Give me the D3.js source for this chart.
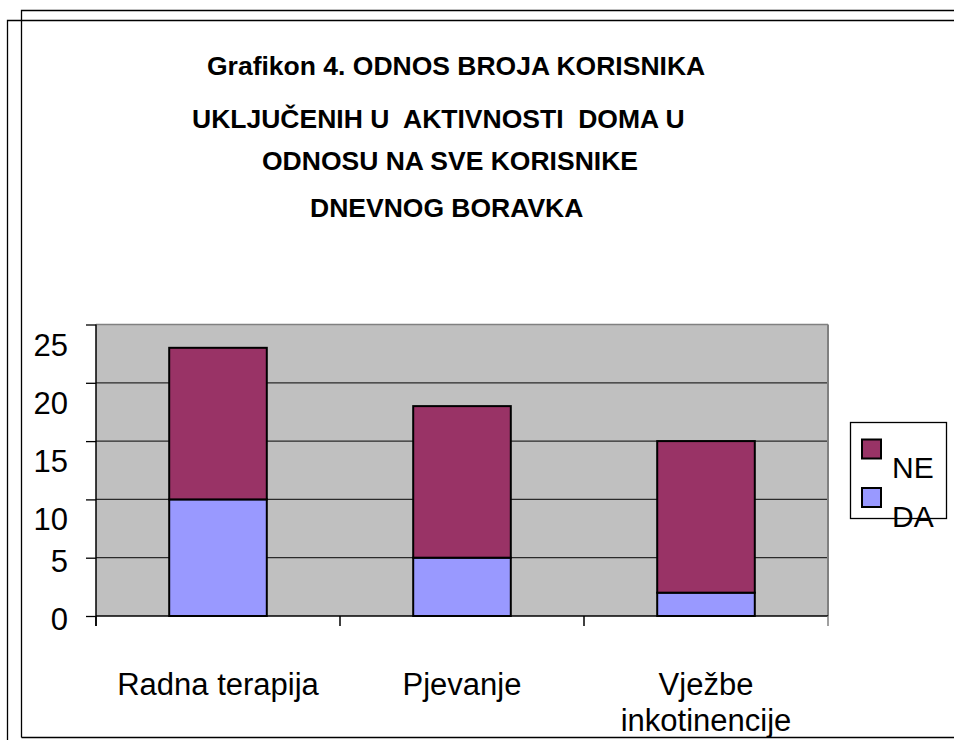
<!DOCTYPE html>
<html>
<head>
<meta charset="utf-8">
<script src="https://cdn.jsdelivr.net/npm/d3@7"></script>
<style>
  body { margin: 0; background: #fff; }
  svg { display: block; font-family: "Liberation Sans", Arial, sans-serif; }
</style>
</head>
<body>
<svg id="chart" width="954" height="740"></svg>
<script>
// chart data
const categories = ["Radna terapija", "Pjevanje", "Vježbe inkotinencije"];
const categoryLines = [["Radna terapija"], ["Pjevanje"], ["Vježbe", "inkotinencije"]];
const daValues = [10, 5, 2];
const neValues = [13, 13, 13];
const seriesNames = ["DA", "NE"];
const seriesColors = ["#9999FF", "#993366"];
const yTicks = [0, 5, 10, 15, 20, 25];
const titleLines = [
  "Grafikon 4. ODNOS BROJA KORISNIKA",
  "UKLJUČENIH U  AKTIVNOSTI  DOMA U",
  "ODNOSU NA SVE KORISNIKE",
  "DNEVNOG BORAVKA"
];

const svg = d3.select("#chart");

// outer double frame
const frame = svg.append("g").attr("stroke", "#000").attr("stroke-width", 1.3).attr("fill", "none");
frame.append("path").attr("d", "M21.5,737.5 L21.5,10.5 L954,10.5");
frame.append("path").attr("d", "M7.5,740 L7.5,20.5 L954,20.5");
frame.append("line").attr("x1", 21.5).attr("x2", 954).attr("y1", 737.5).attr("y2", 737.5);

// title
const titleX = [207, 192, 262, 310];
const titleY = [75, 128, 170, 217];
svg.append("g").selectAll("text")
  .data(titleLines)
  .enter()
  .append("text")
  .attr("x", (d, i) => titleX[i])
  .attr("y", (d, i) => titleY[i])
  .attr("font-size", 26.5)
  .attr("font-weight", "bold")
  .style("white-space", "pre")
  .attr("xml:space", "preserve")
  .text(d => d);

// scales
const plot = { left: 96, right: 828, top: 324.5, bottom: 616 };
const x = d3.scaleBand()
  .domain(categories)
  .range([plot.left, plot.right])
  .paddingInner(0.6)
  .paddingOuter(0.3);
const y = d3.scaleLinear()
  .domain([0, 25])
  .range([plot.bottom, plot.top]);

// plot background
svg.append("rect")
  .attr("x", plot.left).attr("y", plot.top)
  .attr("width", plot.right - plot.left)
  .attr("height", plot.bottom - plot.top)
  .attr("fill", "#C0C0C0");

// gridlines
svg.append("g").selectAll("line")
  .data(yTicks.filter(d => d > 0))
  .enter()
  .append("line")
  .attr("x1", plot.left).attr("x2", plot.right)
  .attr("y1", d => y(d)).attr("y2", d => y(d))
  .attr("stroke", d => d === 25 ? "#808080" : "#2a2a2a")
  .attr("stroke-width", 1.3);

// right border of the plot area
svg.append("line")
  .attr("x1", plot.right).attr("x2", plot.right)
  .attr("y1", plot.top).attr("y2", plot.bottom)
  .attr("stroke", "#808080").attr("stroke-width", 2);

// stacked bars
const tableData = categories.map((c, i) => ({ category: c, DA: daValues[i], NE: neValues[i] }));
const stacked = d3.stack().keys(seriesNames)(tableData);

svg.append("g").selectAll("g")
  .data(stacked)
  .enter()
  .append("g")
  .attr("fill", (d, i) => seriesColors[i])
  .selectAll("rect")
  .data(d => d)
  .enter()
  .append("rect")
  .attr("x", d => x(d.data.category))
  .attr("y", d => y(d[1]))
  .attr("width", x.bandwidth())
  .attr("height", d => y(d[0]) - y(d[1]))
  .attr("stroke", "#000")
  .attr("stroke-width", 2);

// y axis
const yAxis = svg.append("g")
  .attr("transform", `translate(${plot.left},0)`)
  .call(d3.axisLeft(y).tickValues(yTicks).tickSize(10).tickFormat(""));
yAxis.select(".domain").attr("d", `M0,${plot.top}V${plot.bottom + 10}`).attr("stroke", "#000").attr("stroke-width", 1.5);
yAxis.selectAll(".tick line").attr("stroke", "#000").attr("stroke-width", 1.3);

svg.append("g").selectAll("text")
  .data(yTicks)
  .enter()
  .append("text")
  .attr("x", 68)
  .attr("y", d => y(d) + (d >= 10 ? 31 : 14))
  .attr("text-anchor", "end")
  .attr("font-size", 31)
  .text(d => d);

// x axis with ticks at the category boundaries
const step = x.step();
const boundaries = categories.map(c => x(c) - step * 0.3).concat([plot.right]);
const xAxis = svg.append("g");
xAxis.append("line")
  .attr("x1", plot.left).attr("x2", plot.right)
  .attr("y1", plot.bottom).attr("y2", plot.bottom)
  .attr("stroke", "#000").attr("stroke-width", 1.5);
xAxis.selectAll(".xtick")
  .data(boundaries)
  .enter()
  .append("line")
  .attr("class", "xtick")
  .attr("x1", d => d).attr("x2", d => d)
  .attr("y1", plot.bottom).attr("y2", plot.bottom + 10)
  .attr("stroke", (d, i) => i === boundaries.length - 1 ? "#808080" : "#000")
  .attr("stroke-width", 1.5);

// category labels
svg.append("g").selectAll("text")
  .data(categories)
  .enter()
  .append("text")
  .attr("x", d => x(d) + x.bandwidth() / 2)
  .attr("y", 695)
  .attr("text-anchor", "middle")
  .attr("font-size", 31)
  .selectAll("tspan")
  .data((d, i) => categoryLines[i])
  .enter()
  .append("tspan")
  .attr("x", function () { return this.parentNode.getAttribute("x"); })
  .attr("dy", (d, i) => i === 0 ? 0 : 36)
  .text(d => d);

// legend
const legend = svg.append("g");
legend.append("rect")
  .attr("x", 850.5).attr("y", 422.5)
  .attr("width", 96).attr("height", 96)
  .attr("fill", "#fff").attr("stroke", "#000").attr("stroke-width", 1.3);

const legendItems = ["NE", "DA"];
const legendRows = legend.selectAll("g")
  .data(legendItems)
  .enter()
  .append("g")
  .attr("transform", (d, i) => `translate(862,${439.5 + i * 48.5})`);
legendRows.append("rect")
  .attr("width", 19).attr("height", 19)
  .attr("fill", d => seriesColors[seriesNames.indexOf(d)])
  .attr("stroke", "#000").attr("stroke-width", 2);
legendRows.append("text")
  .attr("x", 30).attr("y", 38.5)
  .attr("font-size", 30)
  .text(d => d);
</script>
</body>
</html>
